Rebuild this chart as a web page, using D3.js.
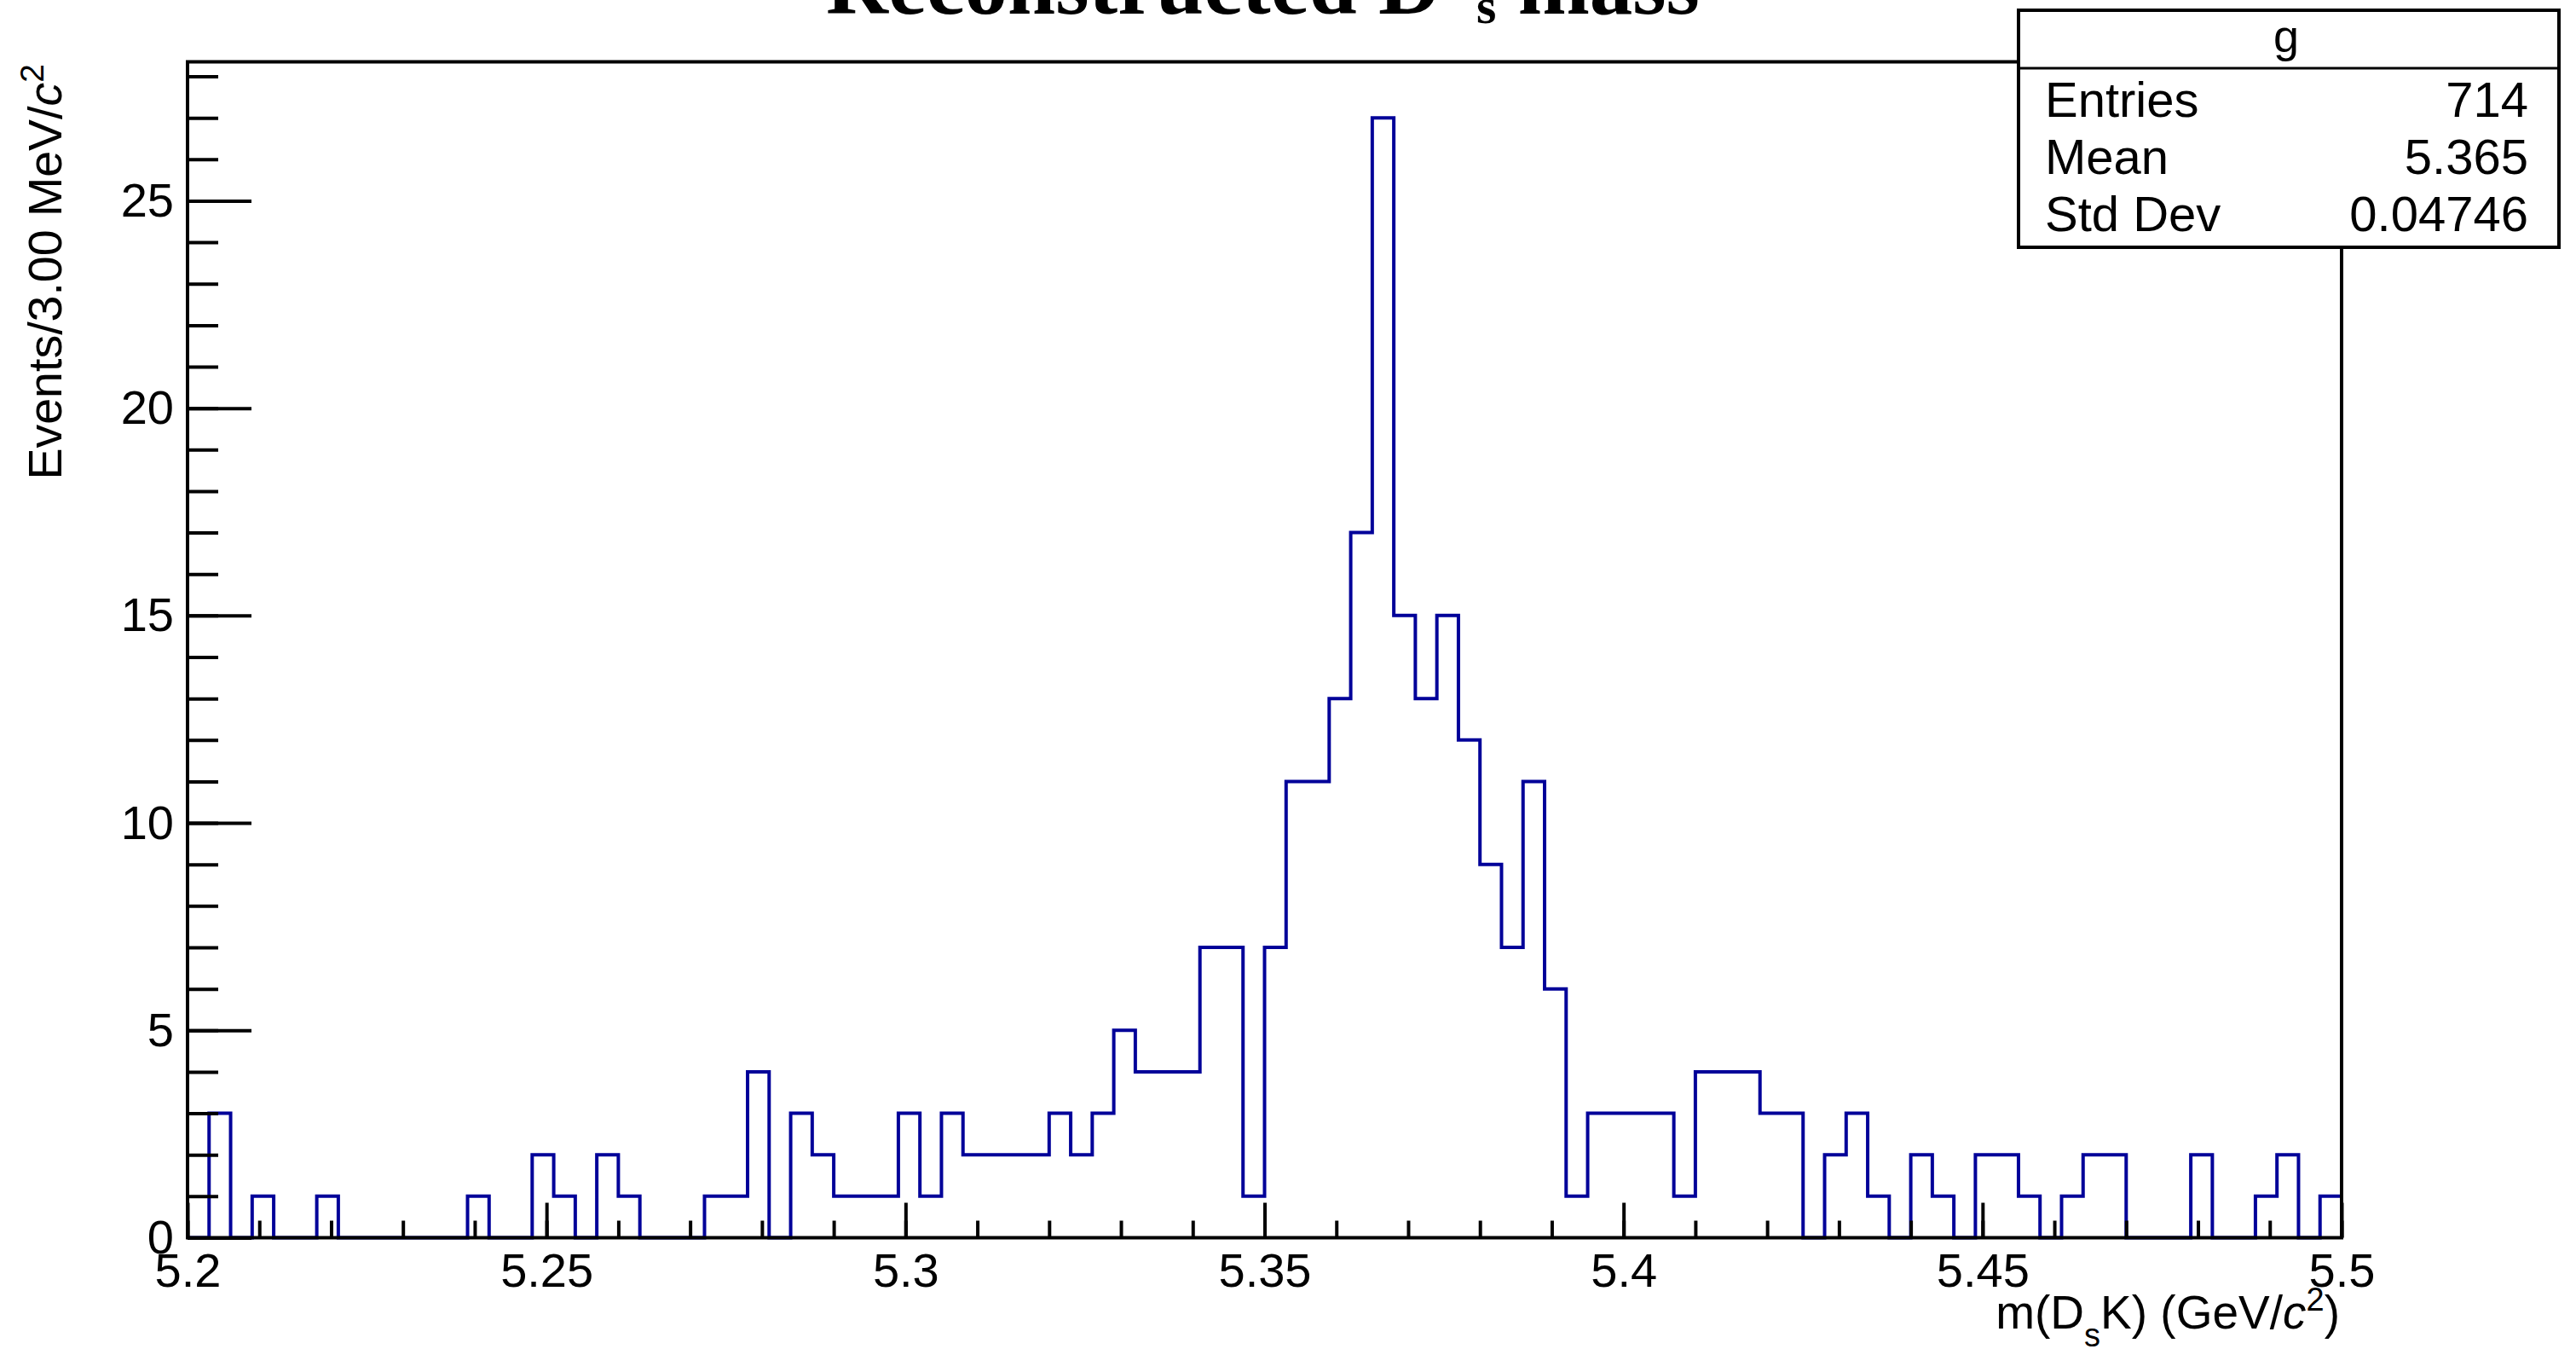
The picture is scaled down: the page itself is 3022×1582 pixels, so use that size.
<!DOCTYPE html>
<html>
<head>
<meta charset="utf-8">
<script src="https://cdn.jsdelivr.net/npm/d3@7/dist/d3.min.js"></script>
<style>
  body { margin: 0; background: #fff; }
  svg { display: block; }
  text { font-family: "Liberation Sans", Arial, Helvetica, sans-serif; fill: #000; }
</style>
</head>
<body>
<div id="chart"></div>
<script>
// histogram contents: 100 bins of 3 MeV from 5.2 to 5.5 GeV
var binLow = 5.2,
    binHigh = 5.5;
var counts = [
    0, 3, 0, 1, 0, 0, 1, 0, 0, 0,
    0, 0, 0, 1, 0, 0, 2, 1, 0, 2,
    1, 0, 0, 0, 1, 1, 4, 0, 3, 2,
    1, 1, 1, 3, 1, 3, 2, 2, 2, 2,
    3, 2, 3, 5, 4, 4, 4, 7, 7, 1,
    7, 11, 11, 13, 17, 27, 15, 13, 15, 12,
    9, 7, 11, 6, 1, 3, 3, 3, 3, 1,
    4, 4, 4, 3, 3, 0, 2, 3, 1, 0,
    2, 1, 0, 2, 2, 1, 0, 1, 2, 2,
    0, 0, 0, 2, 0, 0, 1, 2, 0, 1
];

// axis ticks
var xMajorTicks = [5.2, 5.25, 5.3, 5.35, 5.4, 5.45, 5.5],
    xTickLabels = ["5.2", "5.25", "5.3", "5.35", "5.4", "5.45", "5.5"],
    yMajorTicks = [0, 5, 10, 15, 20, 25],
    yTickLabels = ["0", "5", "10", "15", "20", "25"];

// stats box
var statsTitle = "g",
    statsNames = ["Entries", "Mean", "Std Dev"],
    statsValues = ["714", "5.365", "0.04746"];

var width = 3022,
    height = 1582,
    frame = {left: 220, right: 2747, top: 72.5, bottom: 1451.5},
    lineColor = "#000099";

var svg = d3.select("#chart").append("svg")
    .attr("width", width)
    .attr("height", height);

svg.append("rect")
    .attr("width", width)
    .attr("height", height)
    .attr("fill", "#fff");

var nBins = counts.length,
    binWidth = (binHigh - binLow) / nBins;

// x scale
var xScale = d3.scaleLinear()
    .domain([binLow, binHigh])
    .range([frame.left, frame.right]);

// y scale, ROOT leaves 5% headroom above the maximum
var yScale = d3.scaleLinear()
    .domain([0, d3.max(counts) * 1.05])
    .range([frame.bottom, frame.top]);

// histogram outline as a step line
var points = [[binLow, 0]];
counts.forEach(function(c, i) {
    points.push([binLow + binWidth * i, c]);
});
points.push([binHigh, counts[nBins - 1]]);
points.push([binHigh, 0]);

var stepLine = d3.line()
    .x(function(d) { return xScale(d[0]); })
    .y(function(d) { return yScale(d[1]); })
    .curve(d3.curveStepAfter);

svg.append("path")
    .datum(points)
    .attr("d", stepLine)
    .attr("fill", "none")
    .attr("stroke", lineColor)
    .attr("stroke-width", 4);

// frame
svg.append("rect")
    .attr("x", frame.left)
    .attr("y", frame.top)
    .attr("width", frame.right - frame.left)
    .attr("height", frame.bottom - frame.top)
    .attr("fill", "none")
    .attr("stroke", "#000")
    .attr("stroke-width", 4);

// x axis, ticks point into the frame
var xMinor = d3.range(0, 31).map(function(i) { return binLow + i * 0.01; });
svg.append("g")
    .attr("transform", "translate(0," + frame.bottom + ")")
    .call(d3.axisBottom(xScale).tickValues(xMinor).tickSize(-20).tickFormat(""))
    .call(function(g) { g.select(".domain").remove(); });

svg.append("g")
    .attr("transform", "translate(0," + frame.bottom + ")")
    .call(d3.axisBottom(xScale)
        .tickValues(xMajorTicks)
        .tickSize(-41)
        .tickPadding(18)
        .tickFormat(function(d, i) { return xTickLabels[i]; }))
    .call(function(g) { g.select(".domain").remove(); });

// y axis
var yMinor = d3.range(0, 29);
svg.append("g")
    .attr("transform", "translate(" + frame.left + ",0)")
    .call(d3.axisLeft(yScale).tickValues(yMinor).tickSize(-36).tickFormat(""))
    .call(function(g) { g.select(".domain").remove(); });

svg.append("g")
    .attr("transform", "translate(" + frame.left + ",0)")
    .call(d3.axisLeft(yScale)
        .tickValues(yMajorTicks)
        .tickSize(-75)
        .tickPadding(16)
        .tickFormat(function(d, i) { return yTickLabels[i]; }))
    .call(function(g) { g.select(".domain").remove(); });

svg.selectAll(".tick line")
    .attr("stroke", "#000")
    .attr("stroke-width", 4);

svg.selectAll(".tick text")
    .attr("font-size", 56)
    .attr("fill", "#000");

// x axis title
var xTitle = svg.append("text")
    .attr("x", frame.right - 2)
    .attr("y", 1558)
    .attr("text-anchor", "end")
    .attr("font-size", 55);
xTitle.append("tspan").text("m(D");
xTitle.append("tspan").attr("dy", 21).attr("font-size", 38).text("s");
xTitle.append("tspan").attr("dy", -21).text("K) (GeV/");
xTitle.append("tspan").attr("font-style", "italic").text("c");
xTitle.append("tspan").attr("dy", -21).attr("font-size", 38).text("2");
xTitle.append("tspan").attr("dy", 21).text(")");

// y axis title
var yTitle = svg.append("text")
    .attr("transform", "translate(72,75) rotate(-90)")
    .attr("text-anchor", "end")
    .attr("font-size", 55.5);
yTitle.append("tspan").text("Events/3.00 MeV/");
yTitle.append("tspan").attr("font-style", "italic").text("c");
yTitle.append("tspan").attr("dy", -21).attr("font-size", 39).text("2");

// title, mostly cut off by the top of the canvas as in the original
var title = svg.append("text")
    .attr("x", 969)
    .attr("y", 16)
    .attr("font-size", 101)
    .attr("font-weight", "bold")
    .style("font-family", "'Liberation Serif', 'Times New Roman', serif");
title.append("tspan").text("Reconstructed D");
title.append("tspan").attr("dy", -50).attr("font-size", 60).text("\u2212");
title.append("tspan").attr("dx", 8).attr("dy", 61).attr("font-size", 60).text("s");
title.append("tspan").attr("dy", -11).text(" mass");

// stats box
var box = {left: 2368, right: 3002, top: 12, header: 80, bottom: 290};
svg.append("rect")
    .attr("x", box.left)
    .attr("y", box.top)
    .attr("width", box.right - box.left)
    .attr("height", box.bottom - box.top)
    .attr("fill", "#fff")
    .attr("stroke", "#000")
    .attr("stroke-width", 4);

svg.append("line")
    .attr("x1", box.left)
    .attr("x2", box.right)
    .attr("y1", box.header)
    .attr("y2", box.header)
    .attr("stroke", "#000")
    .attr("stroke-width", 3);

svg.append("text")
    .attr("x", (box.left + box.right) / 2 - 3)
    .attr("y", 61)
    .attr("text-anchor", "middle")
    .attr("font-size", 54)
    .text(statsTitle);

var rowBase = [137, 204, 271];
statsNames.forEach(function(name, i) {
    svg.append("text")
        .attr("x", 2399)
        .attr("y", rowBase[i])
        .attr("font-size", 58)
        .text(name);
    svg.append("text")
        .attr("x", 2966)
        .attr("y", rowBase[i])
        .attr("text-anchor", "end")
        .attr("font-size", 58)
        .text(statsValues[i]);
});
</script>
</body>
</html>
